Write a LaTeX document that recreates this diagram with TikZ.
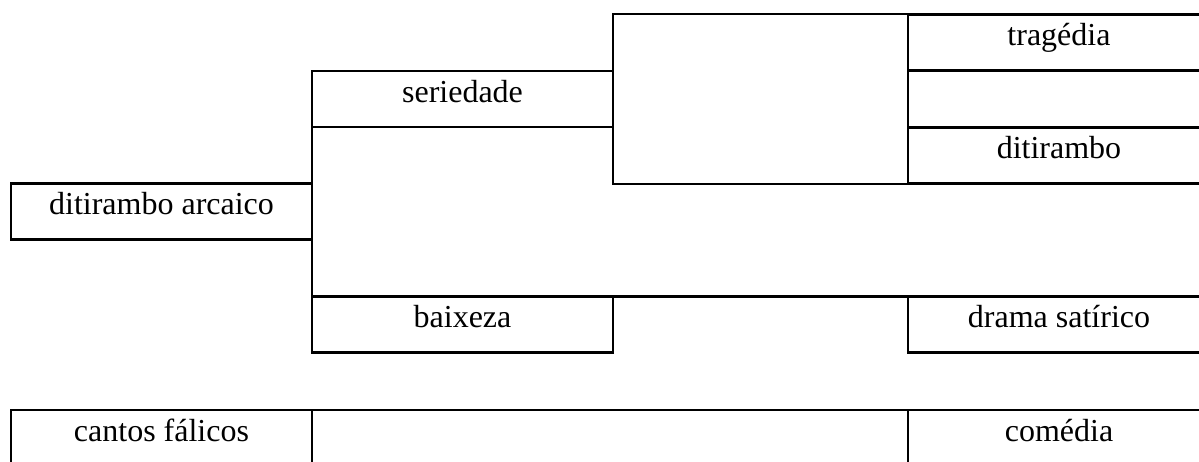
\documentclass[tikz,border=0pt]{standalone}
\usepackage{fontspec}
\setmainfont{Liberation Serif}
\begin{document}
\begin{tikzpicture}[x=0.75pt,y=-0.75pt,line width=2pt,
  cell/.style={draw=black, rectangle, inner sep=0pt, outer sep=0pt,
    text height=0.683em, text depth=0.217em,
    font=\fontsize{24}{28}\selectfont},
  narrow/.style={minimum width=225.75pt},
  wide/.style={minimum width=226.5pt},
  rowh/.style={minimum height=42pt}]
\clip (0,0) rectangle (1199,461);

% first column
\node[cell,narrow,rowh] (arcaico) at (161.5,211.75) {ditirambo arcaico};
\node[cell,narrow,rowh] (cantos)  at (161.5,438)    {cantos fálicos};

% second column
\node[cell,narrow,rowh] (seriedade) at (462.5,99)    {seriedade};
\node[cell,narrow,rowh] (baixeza)   at (462.5,324.5) {baixeza};

% third column: the empty cell spanning the upper rows
\node[cell,minimum width=221.25pt,minimum height=127.5pt] (ramo) at (760.5,99) {};

% last column
\node[cell,wide,rowh] (tragedia)  at (1059,42.5)  {tragédia};
\node[cell,wide,rowh] (ditirambo) at (1059,155.5) {ditirambo};
\node[cell,wide,rowh] (drama)     at (1059,324.5) {drama satírico};
\node[cell,wide,rowh] (comedia)   at (1059,438)   {comédia};

% connecting rules
\draw (seriedade.south west) -- (baixeza.north west);
\draw (baixeza.north east) -- (drama.north west);
\draw (cantos.north east) -- (comedia.north west);
\end{tikzpicture}
\end{document}
